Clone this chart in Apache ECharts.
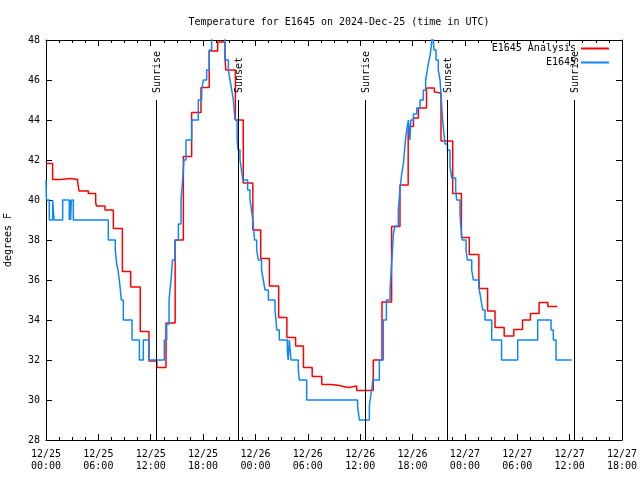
<!DOCTYPE html>
<html>
<head>
<meta charset="utf-8">
<script src="https://cdn.jsdelivr.net/npm/echarts@6/dist/echarts.min.js"></script>
<style>html,body{margin:0;padding:0;background:#fff;}#c{width:640px;height:480px;}</style>
</head>
<body>
<div id="c"></div>
<script>
// Hours since 2024-12-25 00:00 UTC
const xTickLabels = ['12/25\n00:00','12/25\n06:00','12/25\n12:00','12/25\n18:00','12/26\n00:00','12/26\n06:00','12/26\n12:00','12/26\n18:00','12/27\n00:00','12/27\n06:00','12/27\n12:00','12/27\n18:00'];

const analysisHours = [0,0.76,1.68,2.75,3.63,3.78,4.85,5.69,5.8,6.76,7.72,8.75,9.7,10.8,11.8,12.7,13.75,14.8,15.74,16.69,17.76,18.7,19.67,20.5,20.6,21.7,22.6,23.7,24.6,25.6,26.66,27.6,28.6,29.5,30.5,31.6,32.66,33.6,34.65,35.6,37.5,38.5,39.6,40.56,41.5,42.1,42.67,43.6,44.5,44.7,45.26,46.6,47.6,48.5,49.6,50.6,51.45,52.5,53.6,54.6,55.5,56.5,57.5,58.6];
const analysisTemps = [41.83,41.03,41.08,41.03,40.9,40.45,40.32,39.85,39.7,39.5,38.58,36.42,35.65,33.42,31.95,31.63,33.85,38.0,42.17,44.37,45.62,47.45,47.9,47.2,46.5,44.0,40.85,38.5,37.08,35.7,34.13,33.13,32.7,31.63,31.17,30.78,30.72,30.63,30.7,30.47,32.0,34.9,38.67,40.75,43.67,44.1,44.6,45.6,45.4,45.35,42.95,40.33,38.13,37.28,35.58,34.45,33.63,33.2,33.53,34.0,34.33,34.88,34.68,34.68];

const obsHours = [0,0.05,0.38,0.76,0.92,1.91,2.67,2.75,2.82,2.9,3.13,7.14,7.94,8.1,8.25,8.4,8.52,8.63,8.86,9.86,10.7,11.15,11.77,13.56,13.83,14.1,14.32,14.5,14.78,15.17,15.47,15.66,15.81,16.04,16.69,17.45,17.84,18.03,18.41,18.71,18.98,20.51,20.9,21.08,21.28,21.47,21.66,21.9,22.0,22.23,22.4,22.55,23.1,23.37,23.55,23.7,23.9,24.14,24.33,24.7,24.9,25.1,25.48,26.24,26.35,26.43,26.73,27.65,27.75,27.88,28.07,28.91,29.03,29.87,35.71,35.9,37.05,37.13,37.32,37.45,38.2,38.65,39.0,39.42,39.6,39.7,39.8,39.99,40.37,40.5,40.6,40.76,40.95,41.05,41.14,41.33,41.52,41.7,41.8,42.1,42.48,42.86,43.24,43.5,43.62,43.8,44.0,44.15,44.3,44.46,44.69,44.95,45.15,45.3,45.4,45.53,45.72,46.0,46.29,46.49,46.94,47.06,47.44,47.55,47.7,48.13,48.28,48.78,48.97,49.65,49.85,50.04,50.3,51.07,52.2,54.05,56.34,57.87,58.13,58.44,60.24];
const obsTemps = [41,40,39,40,39,40,39,40,39,40,39,38,37.5,36.8,36.5,36,35.5,35,34,33,32,33,32,33,33.8,35,36,37,38,38.8,40,41,42,43,44,45,45.5,46,46.5,47.5,48.5,47,46.5,46,45.5,45,44,43,42.5,42,41.5,41,40.5,40,39.5,39,38,37.5,37,36.5,36,35.5,35,34.5,34,33.5,33,32.5,32,33,32,31.5,31,30,29.67,29,29.67,30,30.5,31,32,34,35,35.5,36.8,37.5,38.3,38.7,39.5,40.2,40.7,41.3,41.8,42.3,42.8,43.5,44,43,44,44.3,44.6,45,45.5,46,46.3,46.8,47.2,47.7,48.5,47.5,47,46.5,46,45,44.3,43.6,42.8,42.5,41.7,41.1,40.5,40,39.3,38.6,38,37.5,37,36.5,36,35.5,35,34.5,34,33,32,33,34,33.5,33,32,32];

const eventHours = [12.6, 22.0, 36.55, 45.95, 60.5];
const eventNames = ['Sunrise','Sunset','Sunrise','Sunset','Sunrise'];
const eventTop = 45, eventBottom = 28;

const FONT = '"DejaVu Sans Mono", "Liberation Mono", monospace';
const chart = echarts.init(document.getElementById('c'), null, {renderer:'canvas'});

function axisCommon() {
  return {
    axisLine: {show:true, onZero:false, lineStyle:{color:'#000', width:1}},
    axisTick: {show:true, inside:true, length:6, lineStyle:{color:'#000'}},
    splitLine: {show:false}
  };
}

const option = {
  animation: false,
  backgroundColor: '#fff',
  title: {
    text: 'Temperature for E1645 on 2024-Dec-25 (time in UTC)',
    left: 334, top: 12, textAlign: 'center',
    textStyle: {fontFamily: FONT, fontSize: 10, fontWeight: 'normal', color: '#000'}
  },
  legend: {
    orient: 'vertical', right: 26, top: 38, align: 'right',
    itemWidth: 28, itemHeight: 2, itemGap: 3, icon: 'rect',
    textStyle: {fontFamily: FONT, fontSize: 10, color: '#000', lineHeight: 11},
    data: ['E1645 Analysis', 'E1645']
  },
  grid: {left: 46, right: 18, top: 40, bottom: 40, containLabel: false, outerBoundsMode: 'none'},
  xAxis: [
    Object.assign({
      type: 'value', min: 0, max: 66, interval: 6, position: 'bottom',
      minorTick: {show: true, splitNumber: 4, length: 3, lineStyle:{color:'#000'}},
      minorSplitLine: {show:false},
      axisLabel: {
        fontFamily: FONT, fontSize: 10, color: '#000', margin: 8, lineHeight: 12,
        formatter: v => xTickLabels[Math.round(v / 6)] || ''
      }
    }, axisCommon()),
    Object.assign({
      type: 'value', min: 0, max: 66, interval: 6, position: 'top',
      minorTick: {show: true, splitNumber: 4, length: 3, lineStyle:{color:'#000'}},
      axisLabel: {show: false}
    }, axisCommon())
  ],
  yAxis: [
    Object.assign({
      type: 'value', min: 28, max: 48, interval: 2, position: 'left',
      name: 'degrees F', nameLocation: 'middle', nameRotate: 90, nameGap: 33,
      nameTextStyle: {fontFamily: FONT, fontSize: 10, color: '#000'},
      axisLabel: {fontFamily: FONT, fontSize: 10, color: '#000', margin: 6}
    }, axisCommon()),
    Object.assign({
      type: 'value', min: 28, max: 48, interval: 2, position: 'right',
      axisLabel: {show: false}
    }, axisCommon())
  ],
  series: [
    {
      name: 'E1645 Analysis', type: 'line', step: 'end', symbol: 'none', showSymbol: false,
      xAxisIndex: 0, yAxisIndex: 0,
      color: '#ff0000', lineStyle: {color: '#ff0000', width: 1.5},
      data: analysisHours.map((h, i) => [h, analysisTemps[i]]), z: 3
    },
    {
      name: 'E1645', type: 'line', step: 'end', symbol: 'none', showSymbol: false,
      xAxisIndex: 0, yAxisIndex: 0,
      color: '#0c86ff', lineStyle: {color: '#0c86ff', width: 1.5},
      data: obsHours.map((h, i) => [h, obsTemps[i]]), z: 4
    },
    {
      name: 'events', type: 'custom', xAxisIndex: 0, yAxisIndex: 0, z: 5,
      dimensions: ['h', 'top', 'bottom'],
      encode: {x: 0, y: [1, 2]},
      data: eventHours.map(h => [h, eventTop, eventBottom]),
      renderItem: function (params, api) {
        const h = api.value(0);
        const p1 = api.coord([h, api.value(1)]);
        const p2 = api.coord([h, api.value(2)]);
        const x = Math.round(p1[0]) + 0.5;
        return {
          type: 'group',
          children: [
            {type: 'line', shape: {x1: x, y1: p1[1], x2: x, y2: p2[1]},
             style: {stroke: '#000', lineWidth: 1}},
            {type: 'text', x: x + 1, y: p1[1] - 7, rotation: Math.PI / 2,
             style: {text: eventNames[params.dataIndex], font: '10px ' + FONT,
                     fill: '#000', align: 'left', verticalAlign: 'middle'}}
          ]
        };
      }
    }
  ]
};
chart.setOption(option);
</script>
</body>
</html>
